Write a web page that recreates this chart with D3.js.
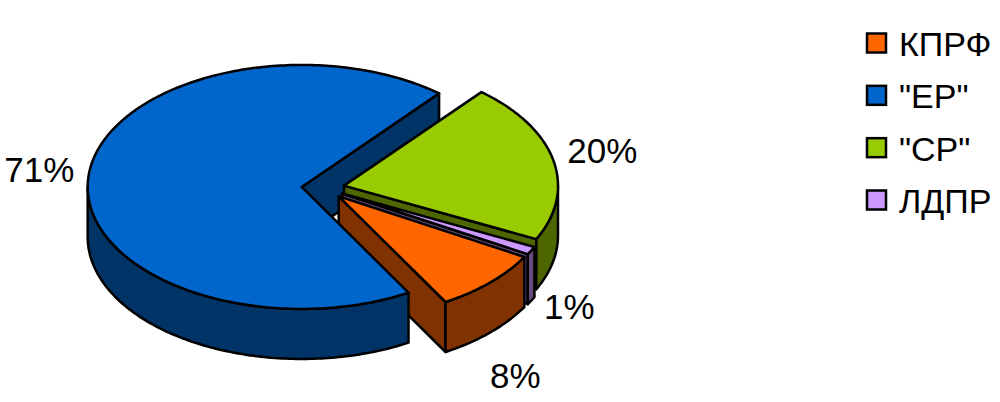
<!DOCTYPE html>
<html>
<head>
<meta charset="utf-8">
<script src="https://cdn.jsdelivr.net/npm/d3@7"></script>
<style>
  html, body { margin: 0; padding: 0; background: #fff; }
  text { font-family: "Liberation Sans", Arial, sans-serif; fill: #000; }
</style>
</head>
<body>
<div id="chart-area"></div>
<script>
// data
const parties = ["КПРФ", "\"ЕР\"", "\"СР\"", "ЛДПР"]
const shares = [8, 71, 20, 1]
const colors = ["#FF6600", "#0066CC", "#99CC00", "#CC99FF"]
const darkColors = ["#803300", "#003366", "#4D6600", "#664D80"]

// layout
const WIDTH = 1000, HEIGHT = 402
const CENTER = { X: 323, Y: 188 }
const RX = 214, RY = 122, DEPTH = 50
const EXPLODE = 0.1
const FIRST_ANGLE = 118.4 * Math.PI / 180
// the view is slightly off axis, so slices on the right look a bit wider
const SKEW = 0.063, SKEW_AT = 95 * Math.PI / 180
const LABEL_R = 1.24
const labelNudge = [[-18, 78], [2, -3], [-2, -4], [-10, 47]]

const svg = d3.select("#chart-area").append("svg")
  .attr("width", WIDTH)
  .attr("height", HEIGHT)
  .style("display", "block")

const pie = d3.pie().sort(null).startAngle(FIRST_ANGLE).endAngle(FIRST_ANGLE + 2 * Math.PI)
const arcs = pie(shares)

const view = function(a) { return a + SKEW * Math.sin(a - SKEW_AT) }
const line = d3.line()

// point on the rim of slice d at angle a, dy below the top face
function rim(d, a, dy) {
  return [d.cx + RX * Math.sin(a), d.cy - RY * Math.cos(a) + dy]
}
function arcPoints(d, a0, a1, dy) {
  const n = Math.max(2, Math.ceil((a1 - a0) * 60))
  return d3.range(n + 1).map(function(i) { return rim(d, a0 + (a1 - a0) * i / n, dy) })
}

const slices = arcs.map(function(d, i) {
  const mid = (d.startAngle + d.endAngle) / 2
  return {
    i: i,
    mid: mid,
    a0: view(d.startAngle),
    a1: view(d.endAngle),
    cx: CENTER.X + EXPLODE * RX * Math.sin(mid),
    cy: CENTER.Y - EXPLODE * RY * Math.cos(mid)
  }
})

function topFace(d) {
  return line([[d.cx, d.cy]].concat(arcPoints(d, d.a0, d.a1, 0))) + "Z"
}
function cutFace(d) {
  return line([[d.cx, d.cy], rim(d, d.a1, 0), rim(d, d.a1, DEPTH), [d.cx, d.cy + DEPTH]]) + "Z"
}
// outer wall, only the part on the front half of the pie shows
function wallFace(d) {
  const turn = 2 * Math.PI
  const shift = d.a0 >= turn ? turn : 0
  const from = Math.max(d.a0 - shift, Math.PI / 2)
  const to = Math.min(d.a1 - shift, 3 * Math.PI / 2)
  if (to <= from) return null
  return line(arcPoints(d, from, to, 0).concat(arcPoints(d, from, to, DEPTH).reverse())) + "Z"
}

function drawFaces(g, d, faces) {
  faces.forEach(function(f) {
    const path = f(d)
    if (!path) return
    g.append("path")
      .attr("d", path)
      .attr("fill", f === topFace ? colors[d.i] : darkColors[d.i])
      .attr("stroke", "#000")
      .attr("stroke-width", 2.5)
      .attr("stroke-linejoin", "round")
  })
}

const g = svg.append("g")

// ER is cut open first, the other slices sit in its gap, its front goes on last
const big = slices[d3.greatestIndex(shares)]
drawFaces(g, big, [cutFace])
drawFaces(g, slices[2], [cutFace, wallFace, topFace])
drawFaces(g, slices[3], [cutFace, wallFace, topFace])
drawFaces(g, slices[0], [cutFace, wallFace, topFace])
drawFaces(g, big, [wallFace, topFace])

// percent labels
svg.append("g").selectAll("text")
  .data(slices)
  .enter().append("text")
    .attr("text-anchor", "middle")
    .attr("font-size", "35px")
    .attr("x", function(d) { return d.cx + LABEL_R * RX * Math.sin(d.mid) + labelNudge[d.i][0] })
    .attr("y", function(d) { return d.cy - LABEL_R * RY * Math.cos(d.mid) + 11 + labelNudge[d.i][1] })
    .text(function(d) { return shares[d.i] + "%" })

// legend
const legendY = d3.scalePoint().domain(parties).range([43, 200])
const legend = svg.append("g").selectAll("g")
  .data(parties)
  .enter().append("g")
    .attr("transform", function(d) { return "translate(866, " + legendY(d) + ")" })

legend.append("rect")
  .attr("x", 1)
  .attr("y", -9.5)
  .attr("width", 19)
  .attr("height", 19)
  .attr("fill", function(d, i) { return colors[i] })
  .attr("stroke", "#000")
  .attr("stroke-width", 2.5)

legend.append("text")
  .attr("x", 33)
  .attr("y", 13)
  .attr("font-size", "34px")
  .text(function(d) { return d })
</script>
</body>
</html>
